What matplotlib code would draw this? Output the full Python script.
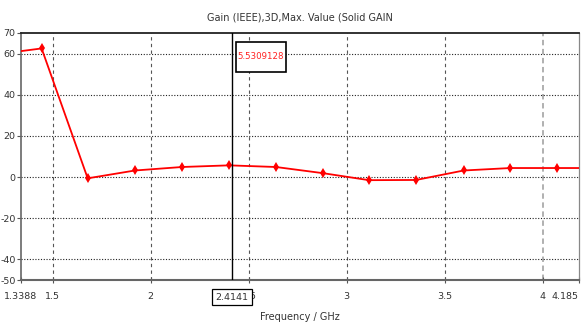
import numpy as np
import matplotlib.pyplot as plt
from matplotlib.patches import Rectangle

plt.rcParams['font.family'] = ['DejaVu Sans']
plt.rcParams['axes.unicode_minus'] = False

#%% dados
freq = [1.3388, 1.444, 1.679, 1.920, 2.160, 2.400, 2.639, 2.879, 3.114, 3.354, 3.597, 3.835, 4.074, 4.185]
ganho = [61.2, 62.5, -0.6, 3.2, 4.9, 5.7, 4.9, 1.9, -1.5, -1.4, 3.2, 4.4, 4.4, 4.4]
marcados = slice(1, 13)

xticks = [1.3388, 1.5, 2, 2.5, 3, 3.5, 4, 4.185]
xtick_labels = ['1.3388', '1.5', '2', '2.5', '3', '3.5', '4', '4.185']
yticks = [70, 60, 40, 20, 0, -20, -40, -50]

cursor_freq = 2.4141
cursor_valor = 5.5309128

#%%
fig = plt.figure(figsize=(5.85, 3.24), dpi=100)
ax = fig.add_axes([21/585, 44/324, 558/585, 247/324])

ax.set_xlim(1.3388, 4.185)
ax.set_ylim(-50, 70)

for x in [1.5, 2, 2.5, 3, 3.5]:
    ax.axvline(x, color='#555555', lw=0.8, ls=(0, (3, 3)), zorder=1)
ax.axvline(4, color='#aaaaaa', lw=1.3, ls=(0, (3, 2)), zorder=1)
for y in [60, 40, 20, 0, -20, -40]:
    ax.axhline(y, color='#222222', lw=0.8, ls=(0, (1, 1.5)), zorder=1)

ax.plot(freq, ganho, color='#ff0000', lw=1.3, zorder=3)
ax.plot(freq[marcados], ganho[marcados], ls='none', marker='d', ms=5.5,
        mew=0, color='#ff0000', zorder=4)

# cursor com caixa do valor
ax.axvline(cursor_freq, color='black', lw=1.0, zorder=5)
caixa = Rectangle((0.3853, 0.842), 0.0896, 0.122, transform=ax.transAxes,
                  fc='white', ec='black', lw=1.2, zorder=6)
ax.add_patch(caixa)
ax.text(0.4301, 0.903, f'{cursor_valor:.7f}', color='#ff2020', fontsize=6.2,
        va='center', ha='center', zorder=7, transform=ax.transAxes)

ax.set_xticks(xticks)
ax.set_xticklabels(xtick_labels)
ax.set_yticks(yticks)
ax.tick_params(axis='both', labelsize=6.8, color='#555555', labelcolor='#333333')
ax.tick_params(axis='x', direction='inout', length=5, pad=6)
ax.tick_params(axis='y', direction='out', length=3, pad=1)
ax.get_xticklabels()[-1].set_horizontalalignment('right')

ax.spines['top'].set_color('#222222')
ax.spines['top'].set_linewidth(1.3)
ax.spines['left'].set_color('#666666')
ax.spines['left'].set_linewidth(1.2)
ax.spines['bottom'].set_color('#666666')
ax.spines['bottom'].set_linewidth(1.5)
ax.spines['right'].set_color('#888888')
ax.spines['right'].set_linewidth(0.9)

ax.text(cursor_freq, -58.3, '2.4141', fontsize=6.8, ha='center', va='center',
        zorder=7, clip_on=False, color='#333333',
        bbox=dict(boxstyle='square,pad=0.35', fc='white', ec='black', lw=0.9))

fig.text(300/585, 1 - 17/324, 'Gain (IEEE),3D,Max. Value (Solid GAIN', fontsize=7,
         ha='center', va='center', color='#333333')
fig.text(300/585, 1 - 317/324, 'Frequency / GHz', fontsize=7,
         ha='center', va='center', color='#333333')

fig.savefig('out.png', dpi=100)
